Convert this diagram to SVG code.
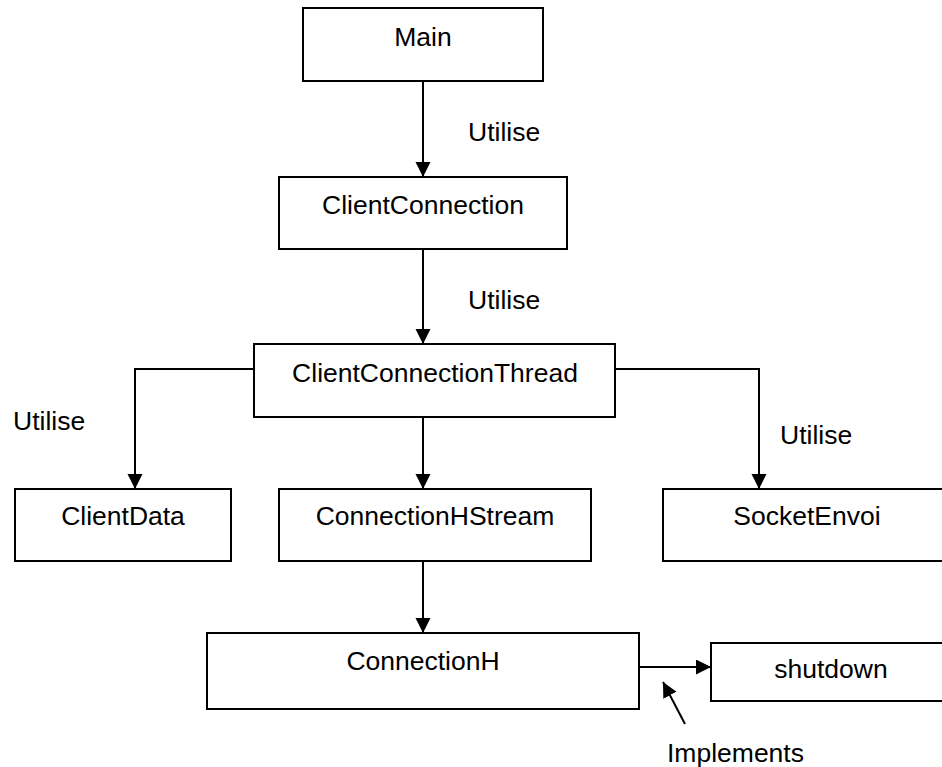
<svg xmlns="http://www.w3.org/2000/svg" width="942" height="767" viewBox="0 0 942 767">
<style>
.box{fill:#fff;stroke:#000;stroke-width:2}
.lbl{font-family:"Liberation Sans",Arial,sans-serif;font-size:26.5px;fill:#000}
.c{text-anchor:middle}
.ln{fill:none;stroke:#000;stroke-width:2}
</style>
<defs>
<marker id="ah" markerUnits="userSpaceOnUse" markerWidth="16" markerHeight="16" refX="15" refY="7.5" orient="auto">
<path d="M0,0 L15,7.5 L0,15 z" fill="#000"/>
</marker>
</defs>
<rect width="942" height="767" fill="#fff"/>
<g id="connectors">
<line class="ln" x1="423" y1="81" x2="423" y2="177" marker-end="url(#ah)"/>
<line class="ln" x1="423" y1="249" x2="423" y2="344" marker-end="url(#ah)"/>
<polyline class="ln" points="254,369 135,369 135,489" marker-end="url(#ah)"/>
<polyline class="ln" points="615,369 759,369 759,489" marker-end="url(#ah)"/>
<line class="ln" x1="423" y1="417" x2="423" y2="489" marker-end="url(#ah)"/>
<line class="ln" x1="423" y1="561" x2="423" y2="633" marker-end="url(#ah)"/>
<line class="ln" x1="639" y1="667" x2="711" y2="667" marker-end="url(#ah)"/>
<line class="ln" x1="685" y1="724" x2="663" y2="682" marker-end="url(#ah)"/>
<text class="lbl" x="468" y="141">Utilise</text>
<text class="lbl" x="468" y="309">Utilise</text>
<text class="lbl" x="13" y="430">Utilise</text>
<text class="lbl" x="780" y="444">Utilise</text>
<text class="lbl" x="667" y="762">Implements</text>
</g>
<g id="main"><rect class="box" x="303" y="8" width="240" height="73"/><text class="lbl c" x="423" y="46">Main</text></g>
<g id="clientconnection"><rect class="box" x="279" y="177" width="288" height="72"/><text class="lbl c" x="423" y="214">ClientConnection</text></g>
<g id="clientconnectionthread"><rect class="box" x="254" y="344" width="361" height="73"/><text class="lbl c" x="435" y="382">ClientConnectionThread</text></g>
<g id="clientdata"><rect class="box" x="15" y="489" width="216" height="72"/><text class="lbl c" x="123" y="525">ClientData</text></g>
<g id="connectionhstream"><rect class="box" x="279" y="489" width="312" height="72"/><text class="lbl c" x="435" y="525">ConnectionHStream</text></g>
<g id="socketenvoi"><rect class="box" x="663" y="489" width="290" height="72"/><text class="lbl c" x="807" y="525">SocketEnvoi</text></g>
<g id="connectionh"><rect class="box" x="207" y="633" width="432" height="76"/><text class="lbl c" x="423" y="670">ConnectionH</text></g>
<g id="shutdown"><rect class="box" x="711" y="643" width="240" height="58"/><text class="lbl c" x="831" y="678">shutdown</text></g>
</svg>
